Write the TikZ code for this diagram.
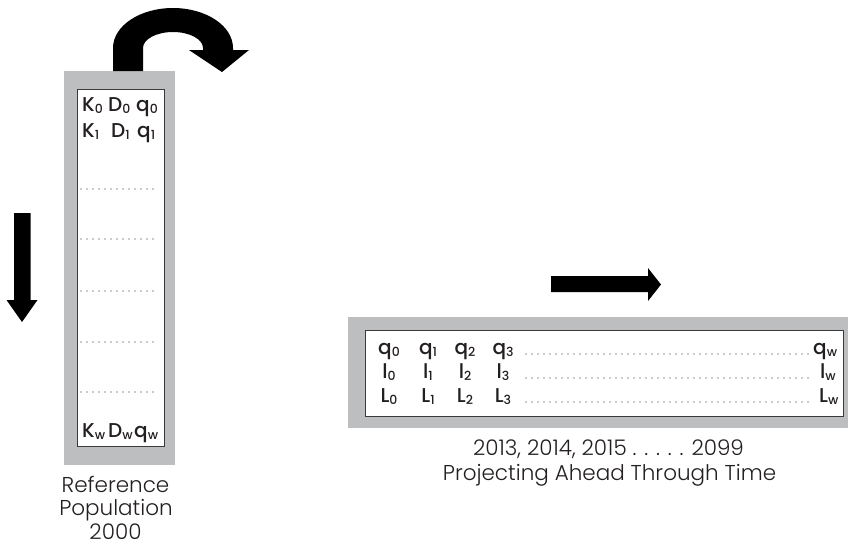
\documentclass[tikz,border=0pt]{standalone}
\usepackage{fontspec}
\setmainfont{Poppins}
\newfontfamily\lightfont{Poppins Light}
\newfontfamily\medfont{Poppins Medium}
\definecolor{panelgray}{HTML}{BCBEC0}
\definecolor{ink}{HTML}{231F20}
\definecolor{rim}{HTML}{3A3A3C}
% lowered small index after a symbol
\newcommand\lo[1]{\raisebox{-2.2pt}{\fontsize{12.5}{13}\selectfont #1}}

\begin{document}
\begin{tikzpicture}[x=1pt,y=1pt,
  panel/.style={fill=panelgray,draw=none},
  sheet/.style={fill=white,draw=rim,line width=1pt},
  cell/.style={inner sep=0pt,anchor=base,text=ink,font=\medfont\fontsize{20}{20}\selectfont},
  cellw/.style={cell,anchor=base west},
  caption/.style={inner sep=0pt,anchor=base,text=ink,font=\lightfont\fontsize{21.5}{22}\selectfont},
  dotrow/.style={draw=ink,line width=1.1pt,line cap=round,dash pattern=on 0pt off 6pt},
  bigarrow/.style={fill=black,draw=none}]
\useasboundingbox (0,0) rectangle (848,-550);

% ---- reference population column ----
\fill[panel] (64,-71) rectangle (175,-465);
\draw[sheet] (77,-89) rectangle (164,-446);

\node[cellw] (k0) at (82,-111) {K\lo{0}};
\node[cellw] (d0) at (108,-111) {D\lo{0}};
\node[cellw] (q0a) at (136,-111) {q\lo{0}};
\node[cellw] (k1) at (82,-137) {K\lo{1}};
\node[cellw] (d1) at (111,-137) {D\lo{1}};
\node[cellw] (q1a) at (137,-137) {q\lo{1}};
\node[cellw] (kw) at (82,-437) {K\lo{w}};
\node[cellw] (dw) at (108,-437) {D\lo{w}};
\node[cellw] (qwa) at (134,-437) {q\lo{w}};

\foreach \yy in {189,239,291,342,392}
  \draw[dotrow] (81,-\yy) -- (158,-\yy);

\node[caption] (ref1) at (115.5,-492) {Reference};
\node[caption] (ref2) at (116,-515.5) {Population};
\node[caption] (ref3) at (115.5,-539) {2000};

% ---- curved arrow over the column ----
\fill[bigarrow] (113,-71) -- (113,-48)
  arc[start angle=180,end angle=0,x radius=60,y radius=40]
  -- (233,-50) -- (249,-50) -- (222,-72) -- (189,-50) -- (203,-50)
  -- (203,-48)
  arc[start angle=0,end angle=180,x radius=30,y radius=16]
  -- (143,-71) -- cycle;

% ---- downward arrow ----
\fill[bigarrow] (14,-213) -- (30.5,-213) -- (30.5,-300) -- (37.5,-300)
  -- (22,-322) -- (6.5,-300) -- (14,-300) -- cycle;

% ---- rightward arrow ----
\fill[bigarrow] (551,-276) -- (648,-276) -- (648,-268) -- (661,-284.5)
  -- (648,-301) -- (648,-292) -- (551,-292) -- cycle;

% ---- projection table ----
\fill[panel] (348,-317) rectangle (848,-428);
\draw[sheet] (365,-330) rectangle (843,-416);

\node[cell] (qc0) at (389,-354) {q\lo{0}};
\node[cell] (qc1) at (428,-354) {q\lo{1}};
\node[cell] (qc2) at (465,-354) {q\lo{2}};
\node[cell] (qc3) at (503,-354) {q\lo{3}};
\node[cellw] (qcw) at (813,-354) {q\lo{w}};

\node[cell] (lc0) at (389,-378) {l\lo{0}};
\node[cell] (lc1) at (428,-378) {l\lo{1}};
\node[cell] (lc2) at (465,-378) {l\lo{2}};
\node[cell] (lc3) at (503,-378) {l\lo{3}};
\node[cellw] (lcw) at (820,-378) {l\lo{w}};

\node[cell] (Lc0) at (389,-402) {L\lo{0}};
\node[cell] (Lc1) at (428,-402) {L\lo{1}};
\node[cell] (Lc2) at (465,-402) {L\lo{2}};
\node[cell] (Lc3) at (503,-402) {L\lo{3}};
\node[cellw] (Lcw) at (819,-402) {L\lo{w}};

\foreach \yy in {354,378,402}
  \draw[dotrow] (526,-\yy) -- (811,-\yy);

\node[caption] (yrs) at (608.5,-455.5) {2013, 2014, 2015 . . . . . 2099};
\node[caption] (proj) at (609.5,-480) {Projecting Ahead Through Time};
\end{tikzpicture}
\end{document}
